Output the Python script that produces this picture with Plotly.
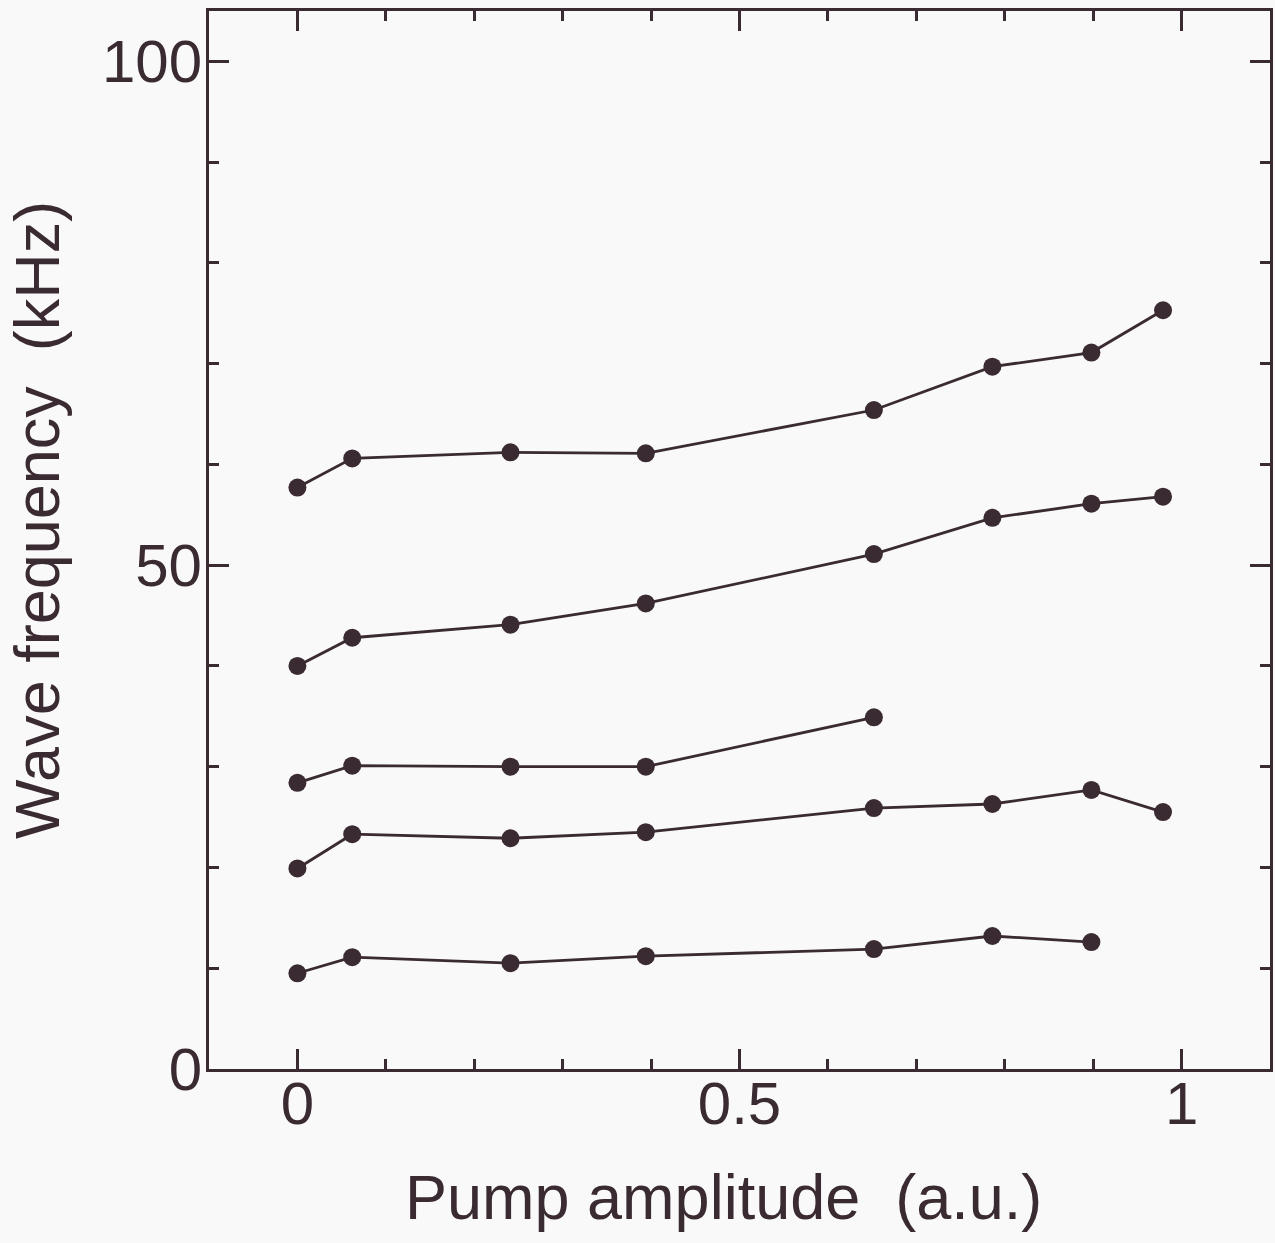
import plotly.graph_objects as go

# Pump amplitude (a.u.) positions of measurements
amp = [0.0, 0.062, 0.241, 0.394, 0.652, 0.786, 0.898, 0.979]

# Wave frequency (kHz) for each branch
branch1 = [57.7, 60.6, 61.2, 61.1, 65.4, 69.7, 71.1, 75.3]
branch2 = [40.0, 42.8, 44.1, 46.2, 51.1, 54.7, 56.1, 56.8]
branch3 = [28.4, 30.1, 30.0, 30.0, 34.9]
branch4 = [19.9, 23.3, 22.9, 23.5, 25.9, 26.3, 27.7, 25.5]
branch5 = [9.5, 11.1, 10.5, 11.2, 11.9, 13.2, 12.6]

xtick_vals = [0, 0.5, 1]
xtick_text = ["0", "0.5", "1"]
ytick_vals = [0, 50, 100]
ytick_text = ["0", "50", "100"]

ink = "#3a2a31"
bg = "#f9f9f9"
font_family = "Liberation Sans, Arial, sans-serif"

fig = go.Figure()
for ys in [branch1, branch2, branch3, branch4, branch5]:
    fig.add_trace(go.Scatter(
        x=amp[:len(ys)], y=ys, mode="lines+markers",
        line=dict(color=ink, width=2.8),
        marker=dict(color=ink, size=18, line=dict(width=0)),
        showlegend=False,
    ))

axis_common = dict(
    showline=True, linecolor=ink, linewidth=3, mirror="allticks",
    ticks="inside", ticklen=20, tickwidth=3, tickcolor=ink,
    showgrid=False, zeroline=False,
    tickfont=dict(family=font_family, size=60, color=ink),
)

fig.update_layout(
    width=1275, height=1243,
    margin=dict(l=209, r=2, t=11, b=174),
    paper_bgcolor=bg, plot_bgcolor=bg,
    xaxis=dict(
        range=[-0.1, 1.1], tickvals=xtick_vals, ticktext=xtick_text,
        minor=dict(ticks="inside", ticklen=10, tickwidth=3, tickcolor=ink, dtick=0.1, tick0=0, showgrid=False),
        ticklabelstandoff=-20,
        **axis_common,
    ),
    yaxis=dict(
        range=[0, 105], tickvals=ytick_vals, ticktext=ytick_text,
        minor=dict(ticks="inside", ticklen=10, tickwidth=3, tickcolor=ink, dtick=10, tick0=0, showgrid=False),
        ticklabelstandoff=-8,
        **axis_common,
    ),
    annotations=[
        dict(text="Pump amplitude&nbsp;&nbsp;(a.u.)", xref="paper", yref="paper",
             x=0.485, y=-0.121, xanchor="center", yanchor="middle", showarrow=False,
             font=dict(family=font_family, size=63, color=ink)),
        dict(text="Wave frequency&nbsp;&nbsp;(kHz)", xref="paper", yref="paper",
             x=-0.162, y=0.519, xanchor="center", yanchor="middle", showarrow=False,
             textangle=-90, font=dict(family=font_family, size=63, color=ink)),
    ],
)

fig.write_html("out.html")
